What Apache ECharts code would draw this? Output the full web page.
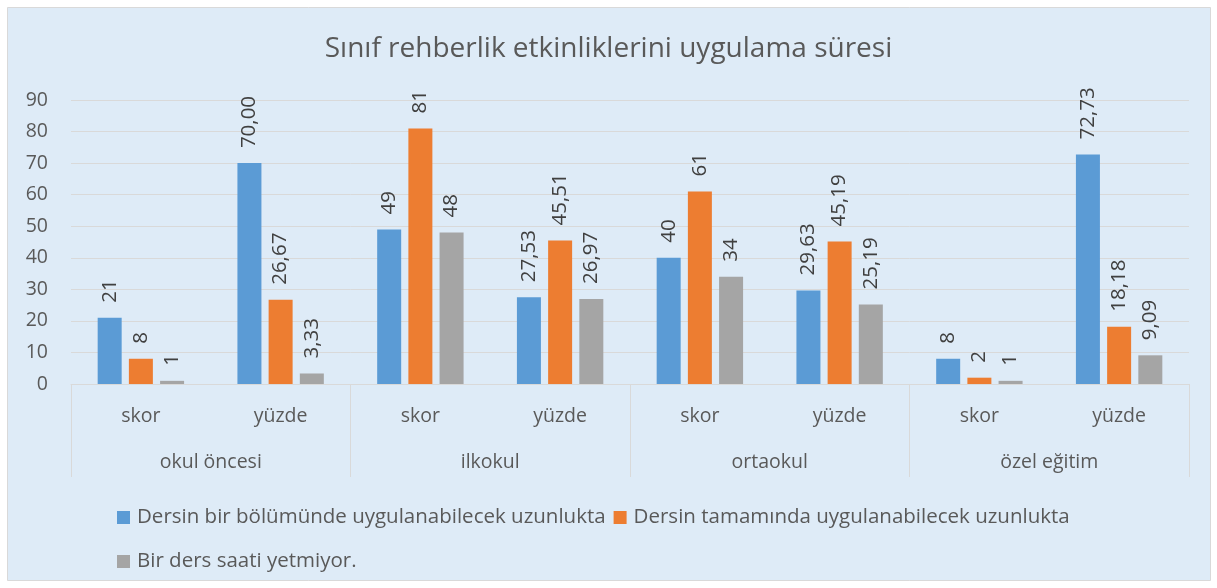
<!DOCTYPE html>
<html>
<head>
<meta charset="utf-8">
<script src="https://cdn.jsdelivr.net/npm/echarts@6/dist/echarts.min.js"></script>
<style>
html,body{margin:0;padding:0;background:#fff;}
#c{width:1217px;height:588px;}
</style>
</head>
<body>
<div id="c"></div>
<script>
const subCategories = ['skor','yüzde','skor','yüzde','skor','yüzde','skor','yüzde'];
const groups = ['okul öncesi','ilkokul','ortaokul','özel eğitim'];
const seriesNames = ['Dersin bir bölümünde uygulanabilecek uzunlukta','Dersin tamamında uygulanabilecek uzunlukta','Bir ders saati yetmiyor.'];
const blueValues = [21, 70.00, 49, 27.53, 40, 29.63, 8, 72.73];
const orangeValues = [8, 26.67, 81, 45.51, 61, 45.19, 2, 18.18];
const grayValues = [1, 3.33, 48, 26.97, 34, 25.19, 1, 9.09];
const yTicks = {min:0, max:90, interval:10};

const FONT = 'Open Sans';
const TXT = '#595959';
const FS = 19.5;
const colors = ['#5B9BD5','#ED7D31','#A5A5A5'];

function fmt(p){
  const isPct = subCategories[p.dataIndex] === 'yüzde';
  return isPct ? p.value.toFixed(2).replace('.', ',') : String(p.value);
}

const chart = echarts.init(document.getElementById('c'));
const mk = (name, data, i) => ({
  name, type:'bar', data, xAxisIndex:0,
  barWidth:24, barGap:'30%',
  itemStyle:{color:colors[i]},
  label:{show:true, position:'top', rotate:90, align:'left', verticalAlign:'middle',
    distance:15, color:'#404040', fontFamily:FONT, fontSize:20.5, formatter:fmt}
});
chart.setOption({
  backgroundColor:'#ffffff',
  animation:false,
  graphic:[{type:'rect', left:7, top:7, shape:{width:1203, height:573},
    style:{fill:'#DEEBF7', stroke:'#D9D9D9', lineWidth:1}, z:-10, silent:true}],
  title:{text:'Sınıf rehberlik etkinliklerini uygulama süresi', left:'center', top:30,
    textStyle:{fontFamily:FONT, fontSize:28, fontWeight:'normal', color:TXT}},
  grid:{left:71, right:28, top:100, bottom:204},
  legend:[
    {data:[seriesNames[0], seriesNames[1]], left:112, top:502, itemWidth:13, itemHeight:13, itemGap:8,
      icon:'rect', textStyle:{fontFamily:FONT, fontSize:20.5, color:TXT, padding:[0,0,0,2]}},
    {data:[seriesNames[2]], left:112, top:546, itemWidth:13, itemHeight:13,
      icon:'rect', textStyle:{fontFamily:FONT, fontSize:20.5, color:TXT, padding:[0,0,0,2]}}
  ],
  xAxis:[
    {type:'category', data:subCategories, position:'bottom',
      axisLine:{show:true, lineStyle:{color:'#D9D9D9', width:1}},
      axisTick:{show:false},
      axisLabel:{interval:0, margin:22, fontFamily:FONT, fontSize:FS, color:TXT}},
    {type:'category', data:groups, position:'bottom', gridIndex:0,
      axisLine:{show:false},
      axisTick:{show:true, length:93, interval:0, lineStyle:{color:'#D9D9D9', width:1}},
      axisLabel:{interval:0, margin:68, fontFamily:FONT, fontSize:FS, color:TXT}}
  ],
  yAxis:{type:'value', min:yTicks.min, max:yTicks.max, interval:yTicks.interval,
    axisLine:{show:false}, axisTick:{show:false},
    splitLine:{lineStyle:{color:'#D9D9D9', width:1}},
    axisLabel:{margin:23, fontFamily:FONT, fontSize:FS, color:TXT}},
  series:[mk(seriesNames[0], blueValues, 0), mk(seriesNames[1], orangeValues, 1), mk(seriesNames[2], grayValues, 2)]
});
</script>
</body>
</html>
